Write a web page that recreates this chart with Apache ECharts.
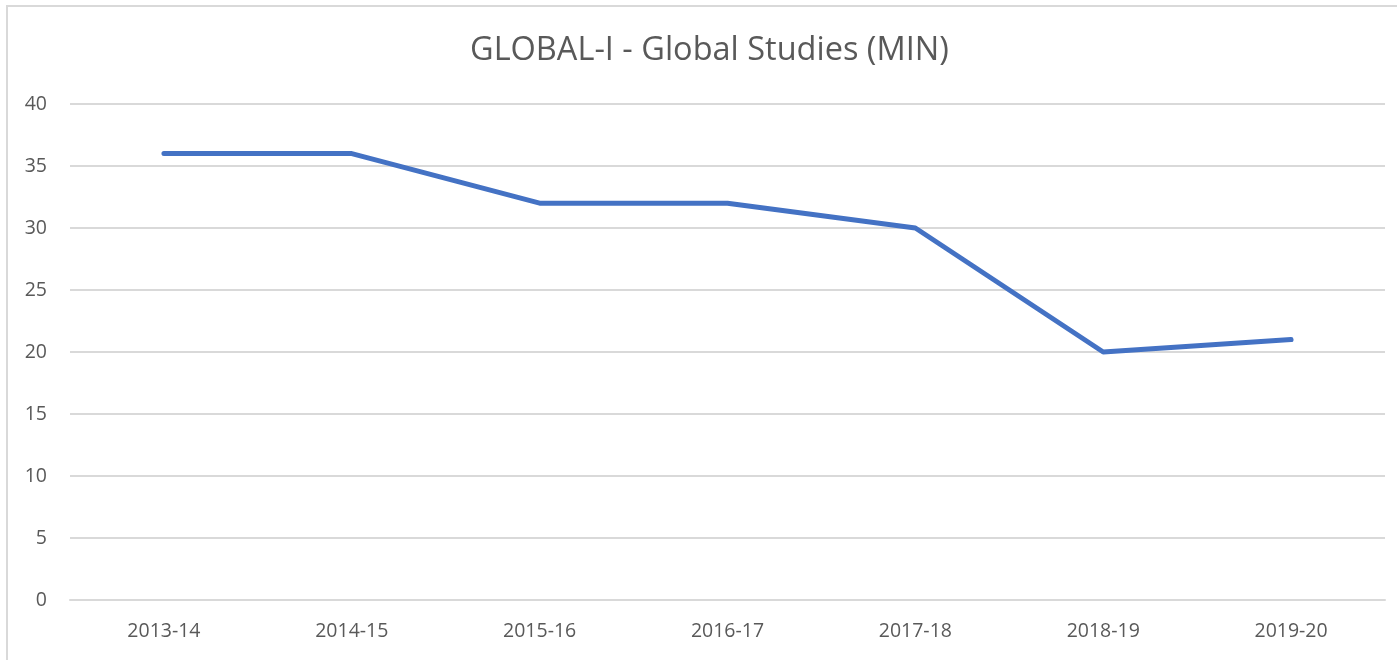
<!DOCTYPE html>
<html>
<head>
<meta charset="utf-8">
<script src="https://cdn.jsdelivr.net/npm/echarts@6/dist/echarts.min.js"></script>
<style>
html,body{margin:0;padding:0;background:#fff;}
#frame{position:absolute;left:6px;top:5px;width:1400px;height:670px;border:2px solid #d9d9d9;box-sizing:border-box;}
#chart{position:absolute;left:0;top:0;width:1397px;height:660px;}
</style>
</head>
<body>
<div id="frame"></div>
<div id="chart"></div>
<script>
const titleText = 'GLOBAL-I - Global Studies (MIN)';
const categories = ['2013-14','2014-15','2015-16','2016-17','2017-18','2018-19','2019-20'];
const values = [36, 36, 32, 32, 30, 20, 21];
const yTicks = {min: 0, max: 40, interval: 5};

const chart = echarts.init(document.getElementById('chart'));
chart.setOption({
  animation: false,
  backgroundColor: 'transparent',
  title: {
    text: titleText,
    left: 465,
    top: 29,
    textStyle: {fontFamily: 'Open Sans', fontSize: 32.5, fontWeight: 'normal', color: '#595959'}
  },
  grid: {left: 70, right: 12, top: 104, bottom: 60},
  xAxis: {
    type: 'category',
    data: categories,
    boundaryGap: true,
    axisLine: {lineStyle: {color: '#d9d9d9', width: 2}},
    axisTick: {show: false},
    axisLabel: {color: '#595959', fontFamily: 'Open Sans', fontSize: 19.5, margin: 21}
  },
  yAxis: {
    type: 'value',
    min: yTicks.min, max: yTicks.max, interval: yTicks.interval,
    axisLine: {show: false},
    axisTick: {show: false},
    splitLine: {lineStyle: {color: '#d9d9d9', width: 2}},
    axisLabel: {color: '#595959', fontFamily: 'Open Sans', fontSize: 19.5, margin: 23}
  },
  series: [{
    type: 'line',
    data: values,
    symbol: 'none',
    lineStyle: {color: '#4472c4', width: 5, cap: 'round', join: 'round'},
    itemStyle: {color: '#4472c4'}
  }]
});
</script>
</body>
</html>
